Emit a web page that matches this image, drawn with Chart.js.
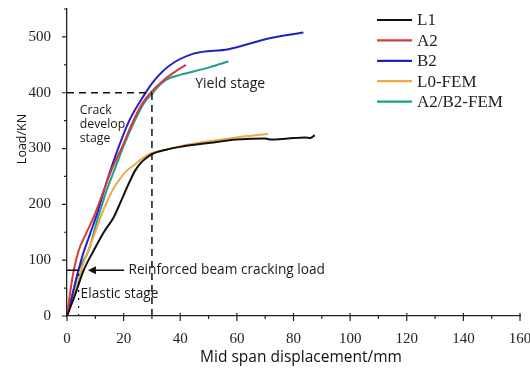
<!DOCTYPE html>
<html>
<head>
<meta charset="utf-8">
<script src="https://cdn.jsdelivr.net/npm/chart.js@4"></script>
<style>
html,body{margin:0;padding:0;background:#fff;}
#wrap{width:530px;height:369px;}
</style>
</head>
<body>
<div id="wrap"><canvas id="c" width="530" height="369"></canvas></div>
<script>
const seriesNames = ['L1','A2','B2','L0-FEM','A2/B2-FEM'];
const seriesColors = ['#111111','#d93a3a','#2222bb','#f0a848','#1f9e8e'];

const L1_x = [0,3,5.9,9.4,13,16.5,19,21.7,24,26,28,30,35,40,50,60,70,72,78,84,86,87.5];
const L1_y = [0,40,82,117,150,177,205,236,260,274,283,290,298,303,310,316,318,316,318,320,319,324];
const A2_x = [0,1.2,2.4,4.1,6.5,9.4,13,16,19.4,23,26.5,29.5,34,38,42];
const A2_y = [0,45,82,117,145,177,225,265,302,345,380,400,422,437,450];
const B2_x = [0,2,5,8,10.6,14,18.2,22,27.4,30.5,36,44.7,57,72,83.5];
const B2_y = [0,40,100,145,183,240,302,350,397,420,448,470,478,498,508];
const L0_x = [0,3,5.5,8.5,12.3,16,18.2,21,24.1,27,30,35,40,50,60,71];
const L0_y = [0,45,90,130,183,225,242,260,272,284,292,298,304,313,320,326];
const AB_x = [0,2,4.1,7.6,10.6,14,17,19.8,23.5,27,30,33,35.3,40,50,57];
const AB_y = [0,40,82,117,170,225,265,302,345,380,398,415,424,432,445,456];

const xTicks = [0,20,40,60,80,100,120,140,160];
const yTicks = [0,100,200,300,400,500];
const crackLoad = 82;
const crackDisp = 4.1;
const yieldDisp = 30;
const yieldLoad = 400;

const seriesX = [L1_x, A2_x, B2_x, L0_x, AB_x];
const seriesY = [L1_y, A2_y, B2_y, L0_y, AB_y];

const datasets = seriesNames.map((n,i)=>({
  label:n,
  data: seriesX[i].map((x,j)=>({x:x,y:seriesY[i][j]})),
  borderColor: seriesColors[i],
  backgroundColor: seriesColors[i],
  borderWidth: 2,
  pointRadius: 0,
  cubicInterpolationMode: 'monotone',
  fill:false
}));

const serif = "'Liberation Serif','Times New Roman',serif";
const sans = "'Open Sans','Noto Sans',sans-serif";

const overlay = {
  id:'overlay',
  afterDatasetsDraw(chart){
    const ctx = chart.ctx;
    const xs = chart.scales.x, ys = chart.scales.y;
    const X = v=>xs.getPixelForValue(v), Y = v=>ys.getPixelForValue(v);
    ctx.save();
    ctx.strokeStyle = '#111'; ctx.lineWidth = 1.5;
    ctx.setLineDash([7,5]);
    ctx.beginPath();
    ctx.moveTo(X(0), Y(yieldLoad)); ctx.lineTo(X(yieldDisp), Y(yieldLoad));
    ctx.moveTo(X(yieldDisp), Y(0)); ctx.lineTo(X(yieldDisp), Y(yieldLoad));
    ctx.stroke();
    ctx.lineWidth = 1.2;
    ctx.setLineDash([2,6]);
    ctx.beginPath();
    ctx.moveTo(X(crackDisp), Y(0)); ctx.lineTo(X(crackDisp), Y(crackLoad));
    ctx.stroke();
    ctx.setLineDash([]);
    ctx.lineWidth = 1.5;
    ctx.beginPath();
    ctx.moveTo(X(0), Y(crackLoad)); ctx.lineTo(X(crackDisp), Y(crackLoad));
    ctx.stroke();
    const ax0 = X(20.2), ax1 = X(7.4), ay = Y(crackLoad);
    ctx.beginPath(); ctx.moveTo(ax0, ay); ctx.lineTo(ax1+6, ay); ctx.stroke();
    ctx.fillStyle = '#111';
    ctx.beginPath(); ctx.moveTo(ax1, ay); ctx.lineTo(ax1+8, ay-4); ctx.lineTo(ax1+8, ay+4); ctx.closePath(); ctx.fill();
    ctx.fillStyle = '#1a1a1a';
    ctx.textBaseline = 'middle'; ctx.textAlign = 'left';
    ctx.font = "13.7px " + sans;
    ctx.fillText('Reinforced beam cracking load', X(21.7), ay);
    ctx.fillText('Elastic stage', X(4.8), Y(40));
    ctx.font = "14px " + sans;
    ctx.fillText('Yield stage', X(45.3), Y(416));
    ctx.font = "12.3px " + sans;
    ctx.fillText('Crack', X(4.5), Y(369));
    ctx.fillText('develop', X(4.5), Y(343));
    ctx.fillText('stage', X(4.5), Y(318));
    ctx.fillStyle = '#111';
    ctx.textAlign = 'center';
    ctx.font = "15.5px " + sans;
    ctx.fillText('Mid span displacement/mm', 301, 358);
    ctx.save();
    ctx.translate(22, 139); ctx.rotate(-Math.PI/2);
    ctx.font = "12.5px " + sans;
    ctx.fillText('Load/KN', 0, 0);
    ctx.restore();
    ctx.textAlign = 'left';
    ctx.strokeStyle = '#222'; ctx.lineWidth = 1.2;
    ctx.beginPath();
    for (let v=0; v<=160; v+=10){
      const len = (v%20===0)?5:3;
      ctx.moveTo(X(v), ys.bottom); ctx.lineTo(X(v), ys.bottom+len);
      if (v%20===0){ ctx.moveTo(X(v), ys.bottom); ctx.lineTo(X(v), ys.bottom-3); }
    }
    for (let v=0; v<=550; v+=50){
      const len = (v%100===0)?5:3;
      ctx.moveTo(xs.left, Y(v)); ctx.lineTo(xs.left-len, Y(v));
    }
    ctx.stroke();
    ctx.font = "17px " + serif;
    seriesNames.forEach((n,i)=>{
      const yy = 20 + i*20.4;
      ctx.strokeStyle = seriesColors[i]; ctx.lineWidth = 2.2;
      ctx.beginPath(); ctx.moveTo(377, yy); ctx.lineTo(412, yy); ctx.stroke();
      ctx.fillStyle = '#222';
      ctx.fillText(n, 417, yy+1);
    });
    ctx.restore();
  }
};

new Chart(document.getElementById('c'), {
  type:'line',
  data:{datasets},
  options:{
    responsive:false,
    animation:false,
    devicePixelRatio:1,
    layout:{padding:{left:0,right:10,top:9,bottom:0}},
    plugins:{legend:{display:false}, tooltip:{enabled:false}},
    scales:{
      x:{
        type:'linear', min:0, max:160,
        afterBuildTicks(s){ s.ticks = xTicks.map(v=>({value:v})); },
        afterFit(s){ s.height = 53; s.paddingLeft = 0; s.paddingRight = 0; },
        grid:{display:false},
        border:{display:true, color:'#222', width:1.3},
        ticks:{font:{family:serif, size:15}, color:'#222', padding:6, maxRotation:0, autoSkip:false},
        title:{display:false}
      },
      y:{
        type:'linear', min:0, max:550,
        afterBuildTicks(s){ s.ticks = yTicks.map(v=>({value:v})); },
        afterFit(s){ s.width = 67; s.paddingTop = 0; s.paddingBottom = 0; },
        grid:{display:false},
        border:{display:true, color:'#222', width:1.3},
        ticks:{font:{family:serif, size:15}, color:'#222', padding:8},
        title:{display:false}
      }
    }
  },
  plugins:[overlay]
});
</script>
</body>
</html>
